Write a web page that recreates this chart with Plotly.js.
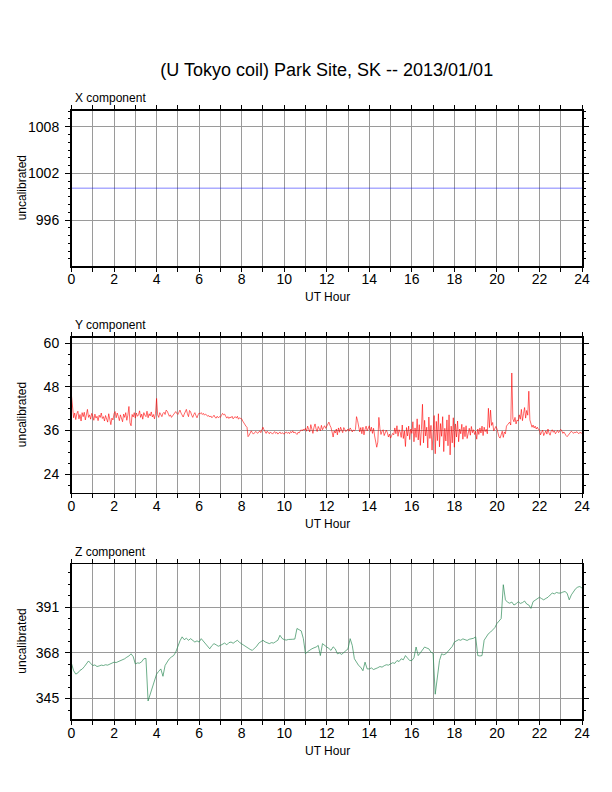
<!DOCTYPE html>
<html>
<head>
<meta charset="utf-8">
<script src="https://cdn.plot.ly/plotly-3.0.1.min.js"></script>
<style>
  html, body { margin: 0; padding: 0; background: #fff; }
  #grafico { width: 612px; height: 792px; }
</style>
</head>
<body>
<div id="grafico"></div>
<script>
// X component: flat trace
const horasX = [0, 24];
const valoresX = [1000.1, 1000.1];

// Y component: one value every 0.05 h, 20 per row (one row per hour)
const pasoY = 0.05;
const valoresY = [
  45.5, 41.2, 39.5, 40.8, 39.0, 40.6, 41.3, 39.2, 40.4, 38.6, 40.9, 39.8, 41.0, 38.9, 40.2, 41.8, 39.6, 40.3, 39.1, 40.7,
  40.0, 38.8, 40.5, 39.4, 39.9, 38.7, 40.2, 39.6, 40.8, 39.3, 39.8, 38.6, 40.1, 39.2, 38.3, 40.6, 39.0, 37.6, 39.4, 38.9,
  40.6, 41.2, 39.5, 40.8, 39.9, 38.7, 40.3, 39.2, 38.4, 40.5, 39.6, 40.9, 38.8, 40.2, 42.6, 38.1, 37.3, 40.4, 39.7, 40.9,
  39.4, 40.8, 39.9, 40.3, 41.4, 39.6, 40.5, 39.1, 40.9, 40.2, 39.8, 41.3, 39.5, 40.6, 40.0, 41.1, 39.7, 40.4, 39.2, 40.7,
  44.8, 40.3, 39.6, 40.9, 40.2, 39.8, 40.7, 41.0, 40.4, 41.6, 41.3, 40.6, 39.9, 40.3, 39.6, 40.0, 40.5, 40.9, 41.2, 40.7,
  40.4, 41.0, 41.6, 40.8, 40.2, 39.7, 40.5, 41.3, 41.8, 40.6, 39.8, 41.5, 41.1, 40.2, 39.6, 40.4, 40.9, 40.1, 39.5, 40.3,
  40.8, 40.6, 40.9, 40.4, 40.7, 40.2, 40.5, 40.3, 39.9, 40.1, 39.7, 40.0, 39.5, 39.8, 40.2, 39.6, 39.4, 39.9, 39.5, 39.8,
  39.6, 40.2, 40.7, 40.3, 40.5, 39.9, 39.4, 39.8, 39.3, 39.7, 39.5, 39.9, 39.2, 39.6, 39.8, 39.4, 39.9, 39.1, 39.5, 39.3,
  39.2, 38.6, 38.0, 37.4, 37.2, 36.9, 34.3, 34.7, 35.5, 35.9, 35.4, 35.0, 35.3, 35.7, 35.6, 35.2, 35.5, 35.9, 35.4, 36.4,
  36.9, 36.2, 35.5, 35.2, 35.8, 35.4, 35.1, 35.6, 35.3, 35.0, 35.4, 35.7, 35.2, 35.5, 35.0, 35.3, 35.6, 35.1, 35.4, 35.2,
  35.0, 35.4, 35.6, 35.2, 35.5, 35.1, 35.7, 35.4, 35.9, 35.3, 35.6, 35.2, 34.9, 35.5, 35.3, 35.8, 36.2, 35.9, 36.4, 36.1,
  36.6, 35.8, 37.2, 36.3, 35.6, 37.6, 36.1, 35.2, 36.9, 37.8, 36.4, 35.7, 37.1, 36.5, 35.9, 37.4, 36.2, 36.8, 37.3, 36.6,
  37.2, 37.9, 38.3, 37.4, 36.8, 35.6, 34.2, 35.9, 35.3, 36.4, 34.8, 36.7, 35.5, 36.9, 36.2, 35.4, 36.8, 36.3, 35.7, 36.1,
  36.4, 35.8, 36.7, 36.2, 35.6, 36.1, 35.9, 36.3, 39.8, 38.7, 37.2, 35.6, 36.8, 35.1, 36.9, 34.8, 36.3, 37.2, 35.9, 36.6,
  37.3, 35.8, 36.9, 35.2, 36.6, 34.5, 33.2, 31.4, 32.8, 39.6, 36.5, 34.9, 35.8, 36.2, 34.6, 35.3, 36.1, 35.4, 34.2, 35.0,
  33.9, 34.6, 35.2, 34.8, 36.7, 35.1, 37.3, 34.4, 36.2, 35.6, 34.1, 37.5, 33.8, 35.9, 31.6, 36.8, 34.5, 37.2, 33.5, 36.4,
  35.2, 38.4, 32.9, 36.7, 34.1, 39.2, 33.4, 37.6, 31.9, 36.3, 43.2, 32.6, 38.8, 34.5, 36.9, 31.2, 39.7, 33.8, 37.4, 30.6,
  36.8, 40.1, 29.6, 38.5, 33.2, 40.6, 31.5, 37.9, 34.4, 39.8, 30.2, 36.6, 33.1, 38.9, 31.8, 40.3, 29.3, 37.2, 32.6, 39.5,
  31.4, 37.8, 34.2, 38.6, 32.9, 36.4, 35.1, 37.7, 33.6, 36.9, 34.3, 37.3, 33.8, 35.9, 36.6, 34.7, 37.1, 35.4, 36.2, 34.9,
  35.8, 33.6, 36.4, 34.9, 36.7, 35.3, 37.2, 34.6, 36.9, 35.7, 36.3, 35.1, 42.1, 36.8, 41.6, 37.4, 38.2, 35.9, 36.6, 37.1,
  36.5, 35.3, 34.2, 33.9, 34.6, 35.8, 34.1, 35.6, 35.1, 37.2, 37.6, 37.9, 38.3, 37.5, 51.8, 39.2, 38.4, 39.6, 37.8, 38.9,
  38.6, 40.3, 39.1, 41.8, 38.7, 40.6, 42.3, 39.4, 41.5, 40.2, 46.8, 38.9, 37.8, 36.9, 37.5, 36.7, 37.2, 36.4, 36.9, 36.3,
  36.2, 34.8, 35.5, 36.1, 34.6, 35.4, 35.9, 35.0, 36.4, 35.3, 34.7, 35.8, 36.2, 35.5, 35.9, 35.1, 35.6, 36.0, 35.4, 35.8,
  36.3, 35.9, 35.2, 35.6, 35.0, 34.6, 34.3, 34.7, 35.1, 35.4, 35.8, 35.5, 35.2, 35.6, 35.3, 35.7, 35.4, 35.1, 35.5, 35.3,
  35.2
];

// Z component: one value every 0.1 h, 10 per row
const pasoZ = 0.1;
const valoresZ = [
  362.6, 359.0, 357.3, 357.9, 359.2, 359.8, 361.0, 362.6, 363.9, 362.7,
  361.6, 361.9, 361.1, 361.4, 361.8, 361.6, 362.0, 361.8, 362.3, 362.6,
  363.3, 363.1, 363.6, 363.8, 364.5, 365.0, 365.8, 366.4, 367.5, 366.1,
  362.4, 362.9, 362.8, 363.5, 365.0, 365.2, 343.8, 347.2, 350.6, 354.0,
  357.3, 358.7, 359.9, 356.2, 361.6, 363.4, 365.0, 365.9, 366.6, 368.3,
  371.7, 374.0, 376.0, 374.6, 375.3, 374.3, 375.1, 374.2, 373.4, 374.0,
  373.4, 375.1, 373.8, 372.6, 371.4, 370.0, 371.6, 372.6, 372.0, 371.3,
  371.7, 372.4, 372.9, 372.0, 373.1, 373.4, 372.8, 373.6, 374.3, 373.2,
  372.6, 371.9, 371.2, 370.4, 369.7, 369.2, 370.3, 371.2, 372.8, 373.6,
  374.3, 373.5, 372.9, 372.6, 373.1, 372.9, 373.6, 374.3, 376.8, 375.2,
  374.6, 374.4, 374.7, 374.6, 374.8, 374.9, 380.2, 379.6, 379.0, 375.1,
  367.5, 368.6, 369.4, 370.0, 370.5, 370.9, 371.7, 366.6, 372.6, 371.5,
  370.9, 370.2, 369.2, 371.0, 370.0, 367.5, 367.9, 367.2, 368.0, 368.8,
  370.0, 375.1, 371.7, 365.0, 363.0, 361.6, 360.7, 359.0, 363.3, 359.9,
  359.9, 360.4, 359.6, 359.9, 360.5, 361.1, 360.8, 361.5, 362.0, 361.8,
  362.4, 363.0, 362.7, 364.1, 363.6, 365.0, 364.5, 366.6, 365.3, 364.1,
  364.1, 365.5, 370.9, 366.6, 368.0, 369.2, 370.9, 370.4, 370.0, 368.3,
  367.8, 347.2, 357.3, 364.1, 367.5, 367.0, 367.5, 368.6, 370.0, 371.2,
  373.4, 373.8, 374.6, 374.3, 375.0, 374.6, 374.2, 374.8, 374.9, 375.3,
  376.0, 366.6, 366.4, 366.6, 374.3, 375.8, 377.6, 378.4, 379.7, 380.6,
  382.7, 384.0, 385.2, 402.2, 394.6, 393.4, 392.9, 393.5, 392.0, 392.6,
  393.7, 392.8, 393.2, 394.0, 392.5, 392.0, 390.3, 393.7, 394.5, 395.4,
  395.9, 395.2, 394.6, 395.3, 395.9, 397.0, 398.0, 397.6, 398.3, 398.0,
  398.0, 398.5, 398.8, 397.9, 394.6, 397.1, 398.8, 400.2, 401.0, 401.3,
  400.5
];

const titulo = '(U Tokyo coil) Park Site, SK -- 2013/01/01';
const componentes = ['X component', 'Y component', 'Z component'];
const rangosY = [[990.1, 1010.05], [18.9, 61.5], [334.6, 412.6]];
const pasosTicks = [6, 12, 23];
const pasosMenores = [1, 3, 5.75];

// panel boxes in pixels (top, bottom), page is 612 x 792
const ALTO = 792, ANCHO = 612;
const paneles = [[110.7, 266], [337.7, 492.7], [564, 719.3]];
const izq = 71.5, der = 582;

const horas = (n, paso) => Array.from({ length: n }, (_, i) => +(i * paso).toFixed(2));

const fuente = 'Liberation Sans, Arial, Helvetica, sans-serif';

const trazas = [
  { x: horasX, y: valoresX, xaxis: 'x', yaxis: 'y',
    mode: 'lines', line: { color: '#0000ff', width: 0.5 } },
  { x: horas(valoresY.length, pasoY), y: valoresY, xaxis: 'x2', yaxis: 'y2',
    mode: 'lines', line: { color: '#ff0000', width: 0.6 } },
  { x: horas(valoresZ.length, pasoZ), y: valoresZ, xaxis: 'x3', yaxis: 'y3',
    mode: 'lines', line: { color: '#2e8b57', width: 0.7 } }
];

const layout = {
  width: ANCHO,
  height: ALTO,
  margin: { l: 0, r: 0, t: 0, b: 0 },
  paper_bgcolor: '#ffffff',
  plot_bgcolor: '#ffffff',
  showlegend: false,
  font: { family: fuente, size: 14, color: '#000000' },
  title: {
    text: titulo,
    font: { family: fuente, size: 18, color: '#000000' },
    x: (izq + der) / 2 / ANCHO, xanchor: 'center',
    y: 1 - 70 / ALTO, yanchor: 'middle', xref: 'paper', yref: 'paper'
  },
  annotations: []
};

paneles.forEach((p, i) => {
  const sufijo = i === 0 ? '' : String(i + 1);
  const dominioY = [1 - p[1] / ALTO, 1 - p[0] / ALTO];

  layout['xaxis' + sufijo] = {
    domain: [izq / ANCHO, der / ANCHO],
    anchor: 'y' + sufijo,
    range: [0, 24],
    tick0: 0, dtick: 2,
    ticks: 'outside', ticklen: 4, tickwidth: 1, tickcolor: '#000',
    ticklabelstandoff: -4,
    showgrid: true, gridcolor: '#9a9a9a', gridwidth: 1,
    minor: { dtick: 1, ticks: 'outside', ticklen: 4, tickcolor: '#000',
             showgrid: true, gridcolor: '#9a9a9a', gridwidth: 1 },
    showline: true, linecolor: '#000', linewidth: 1.5, mirror: 'allticks',
    zeroline: false, automargin: false,
    tickfont: { family: fuente, size: 14, color: '#000' }
  };

  layout['yaxis' + sufijo] = {
    domain: dominioY,
    anchor: 'x' + sufijo,
    range: rangosY[i],
    tick0: 0, dtick: pasosTicks[i],
    ticks: 'outside', ticklen: 5, tickwidth: 1, tickcolor: '#000',
    ticklabelstandoff: 3,
    showgrid: true, gridcolor: '#9a9a9a', gridwidth: 1,
    minor: { tick0: 0, dtick: pasosMenores[i], ticks: 'outside', ticklen: 2.5,
             tickcolor: '#000', showgrid: false },
    showline: true, linecolor: '#000', linewidth: 1.5, mirror: 'allticks',
    zeroline: false, automargin: false,
    tickfont: { family: fuente, size: 14, color: '#000' }
  };

  // panel label above the frame
  layout.annotations.push({
    text: componentes[i], xref: 'paper', yref: 'paper',
    x: (izq + 1) / ANCHO, y: 1 - (p[0] - 12.5) / ALTO,
    xanchor: 'left', yanchor: 'middle', showarrow: false,
    font: { family: fuente, size: 12, color: '#000' }
  });
  // y axis title
  layout.annotations.push({
    text: 'uncalibrated', xref: 'paper', yref: 'paper', textangle: -90,
    x: 22 / ANCHO, y: 1 - (p[0] + p[1]) / 2 / ALTO,
    xanchor: 'center', yanchor: 'middle', showarrow: false,
    font: { family: fuente, size: 12, color: '#000' }
  });
  // x axis title
  layout.annotations.push({
    text: 'UT Hour', xref: 'paper', yref: 'paper',
    x: 327 / ANCHO, y: 1 - (p[1] + 31.4) / ALTO,
    xanchor: 'center', yanchor: 'middle', showarrow: false,
    font: { family: fuente, size: 12, color: '#000' }
  });
});

Plotly.newPlot('grafico', trazas, layout, { displayModeBar: false, staticPlot: true });
</script>
</body>
</html>
